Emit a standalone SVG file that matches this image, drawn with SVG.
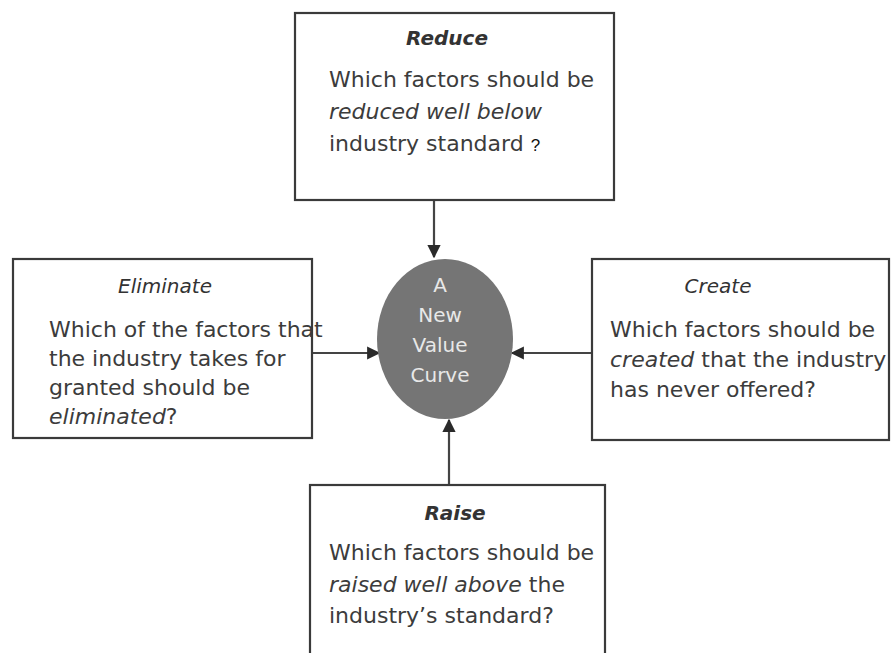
<svg xmlns="http://www.w3.org/2000/svg" width="891" height="653" viewBox="0 0 891 653">
<style>
.box{fill:#fff;stroke:#3a3a3a;stroke-width:2.2}
.t{font-family:"DejaVu Sans","Liberation Sans",sans-serif;font-size:22px;fill:#3c3c3c}
.h{font-family:"DejaVu Sans","Liberation Sans",sans-serif;font-size:20px;fill:#333;font-style:italic;text-anchor:middle}
.b{font-weight:bold}
.i{font-style:italic}
.c{font-family:"DejaVu Sans","Liberation Sans",sans-serif;font-size:20px;fill:#e8e8e8;text-anchor:middle}
.ln{stroke:#444;stroke-width:2.2;fill:none;marker-end:url(#ah)}
</style>
<defs>
<marker id="ah" viewBox="0 0 10 10" refX="9" refY="5" markerWidth="6" markerHeight="6" markerUnits="strokeWidth" orient="auto">
<path d="M0,0 L10,5 L0,10 z" fill="#2a2a2a"/>
</marker>
</defs>
<rect width="891" height="653" fill="#fff"/>
<g id="connectors">
<line class="ln" x1="434" y1="200" x2="434" y2="257"/>
<line class="ln" x1="312" y1="353" x2="379" y2="353"/>
<line class="ln" x1="592" y1="353" x2="512" y2="353"/>
<line class="ln" x1="449" y1="485" x2="449" y2="420"/>
</g>
<g id="reduce">
<rect class="box" x="295" y="13" width="319" height="187"/>
<text class="h b" x="447" y="45">Reduce</text>
<text class="t" x="329" y="87">Which factors should be</text>
<text class="t i" x="329" y="119">reduced well below</text>
<text class="t" x="329" y="151">industry standard <tspan font-family="Liberation Sans,sans-serif" font-size="17" fill="#111">?</tspan></text>
</g>
<g id="eliminate">
<rect class="box" x="13" y="259" width="299" height="179"/>
<text class="h" x="165" y="293">Eliminate</text>
<text class="t" x="49" y="337">Which of the factors that</text>
<text class="t" x="49" y="366">the industry takes for</text>
<text class="t" x="49" y="395">granted should be</text>
<text class="t" x="49" y="424"><tspan class="i">eliminated</tspan>?</text>
</g>
<g id="create">
<rect class="box" x="592" y="259" width="297" height="181"/>
<text class="h" x="718" y="293">Create</text>
<text class="t" x="610" y="337">Which factors should be</text>
<text class="t" x="610" y="367"><tspan class="i">created</tspan> that the industry</text>
<text class="t" x="610" y="397">has never offered?</text>
</g>
<g id="raise">
<rect class="box" x="310" y="485" width="295" height="175"/>
<text class="h b" x="455" y="520">Raise</text>
<text class="t" x="329" y="560">Which factors should be</text>
<text class="t" x="329" y="592"><tspan class="i">raised well above</tspan> the</text>
<text class="t" x="329" y="623">industry’s standard?</text>
</g>
<g id="value-curve">
<ellipse cx="445" cy="339" rx="68" ry="80" fill="#757575"/>
<text class="c" x="440" y="292">A</text>
<text class="c" x="440" y="322">New</text>
<text class="c" x="440" y="352">Value</text>
<text class="c" x="440" y="382">Curve</text>
</g>
</svg>
